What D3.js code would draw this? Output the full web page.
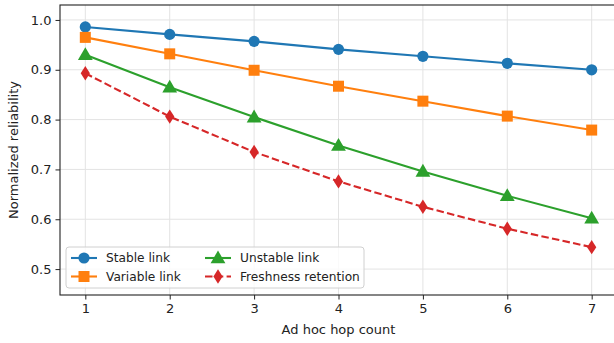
<!DOCTYPE html>
<html>
<head>
<meta charset="utf-8">
<script src="https://cdn.jsdelivr.net/npm/d3@7"></script>
<style>
  body { margin: 0; background: #fff; }
  svg { display: block; font-family: "DejaVu Sans", sans-serif; }
</style>
</head>
<body>
<div class="chart"></div>
<script>
const hops = [1, 2, 3, 4, 5, 6, 7];
const stableLink = [0.986, 0.971, 0.957, 0.941, 0.927, 0.913, 0.900];
const variableLink = [0.965, 0.932, 0.899, 0.867, 0.837, 0.807, 0.779];
const unstableLink = [0.930, 0.865, 0.805, 0.748, 0.696, 0.647, 0.602];
const freshness = [0.893, 0.806, 0.735, 0.676, 0.625, 0.581, 0.544];
const yTicks = [0.5, 0.6, 0.7, 0.8, 0.9, 1.0];

const series = [
  { name: "Stable link", values: stableLink, color: "#1f77b4", marker: "circle", dash: null },
  { name: "Variable link", values: variableLink, color: "#ff7f0e", marker: "square", dash: null },
  { name: "Unstable link", values: unstableLink, color: "#2ca02c", marker: "triangle", dash: null },
  { name: "Freshness retention", values: freshness, color: "#d62728", marker: "diamond", dash: "7.5,3.3" }
];

const W = 614, H = 343;
const margin = { top: 5, right: -3, bottom: 48, left: 60 };
const width = W - margin.left - margin.right;
const height = H - margin.top - margin.bottom;

const svg = d3.select('.chart').append('svg')
  .attr('width', W).attr('height', H);

const g = svg.append('g')
  .attr('transform', `translate(${margin.left}, ${margin.top})`);

const x = d3.scaleLinear().domain([0.7, 7.3]).range([0, width]);
const y = d3.scaleLinear().domain([0.448, 1.030]).range([height, 0]);

// grid
g.append('g').selectAll('line').data(hops).enter().append('line')
  .attr('x1', d => x(d)).attr('x2', d => x(d))
  .attr('y1', 0).attr('y2', height)
  .style('stroke', '#e3e3e3').style('stroke-width', 1);
g.append('g').selectAll('line').data(yTicks).enter().append('line')
  .attr('x1', 0).attr('x2', width)
  .attr('y1', d => y(d)).attr('y2', d => y(d))
  .style('stroke', '#e3e3e3').style('stroke-width', 1);

// axes
const xAxis = d3.axisBottom(x).tickValues(hops).tickSize(4.5).tickPadding(4).tickFormat(d3.format('d'));
const yAxis = d3.axisLeft(y).tickValues(yTicks).tickSize(4.5).tickPadding(4).tickFormat(d3.format('.1f'));

const gx = g.append('g').attr('transform', `translate(0, ${height})`).call(xAxis);
const gy = g.append('g').call(yAxis);
[gx, gy].forEach(ax => {
  ax.select('.domain').remove();
  ax.selectAll('text').style('font-size', '13px').style('fill', '#222')
    .style('font-family', '"DejaVu Sans", sans-serif');
  ax.selectAll('line').style('stroke', '#222');
});

// spines
g.append('rect').attr('width', width).attr('height', height)
  .style('fill', 'none').style('stroke', '#222').style('stroke-width', 1.1);

// markers
const symbolOf = {
  circle: d3.symbol().type(d3.symbolCircle).size(Math.PI * 5.6 * 5.6),
  square: d3.symbol().type(d3.symbolSquare).size(11 * 11),
  triangle: d3.symbol().type(d3.symbolTriangle).size(95),
  diamond: null
};
function markerPath(kind) {
  if (kind === 'diamond') return 'M0,-7.2L4.6,0L0,7.2L-4.6,0Z';
  return symbolOf[kind]();
}

const line = d3.line().x((d, i) => x(hops[i])).y(d => y(d));

series.forEach(s => {
  g.append('path').datum(s.values)
    .attr('d', line)
    .style('fill', 'none').style('stroke', s.color).style('stroke-width', 2.1)
    .style('stroke-dasharray', s.dash);
  g.append('g').selectAll('path').data(s.values).enter().append('path')
    .attr('d', markerPath(s.marker))
    .attr('transform', (d, i) => `translate(${x(hops[i])}, ${y(d) + (s.marker === 'triangle' ? 1 : 0)})`)
    .style('fill', s.color);
});

// axis labels
svg.append('text')
  .attr('x', margin.left + width / 2).attr('y', 334)
  .attr('text-anchor', 'middle').style('font-size', '13px').style('fill', '#222')
  .text('Ad hoc hop count');
svg.append('text')
  .attr('transform', `translate(18, ${margin.top + height / 2}) rotate(-90)`)
  .attr('text-anchor', 'middle').style('font-size', '13px').style('fill', '#222')
  .text('Normalized reliability');

// legend
const legend = svg.append('g').attr('transform', 'translate(66, 247)');
legend.append('rect')
  .attr('width', 298).attr('height', 41).attr('rx', 3)
  .style('fill', 'rgba(255,255,255,0.8)').style('stroke', '#d0d0d0').style('stroke-width', 1);

const cols = [0, 134];
series.forEach((s, i) => {
  const col = Math.floor(i / 2), row = i % 2;
  const item = legend.append('g')
    .attr('transform', `translate(${cols[col] + 5}, ${11 + row * 18.5})`);
  item.append('line').attr('x1', 0).attr('x2', 26)
    .style('stroke', s.color).style('stroke-width', 2.1)
    .style('stroke-dasharray', s.dash ? '7.5,3.3' : null);
  item.append('path').attr('d', markerPath(s.marker))
    .attr('transform', `translate(13, ${s.marker === 'triangle' ? 1 : 0})`)
    .style('fill', s.color);
  item.append('text').attr('x', 35).attr('y', 4.3)
    .style('font-size', '12.2px').style('fill', '#222')
    .text(s.name);
});
</script>
</body>
</html>
